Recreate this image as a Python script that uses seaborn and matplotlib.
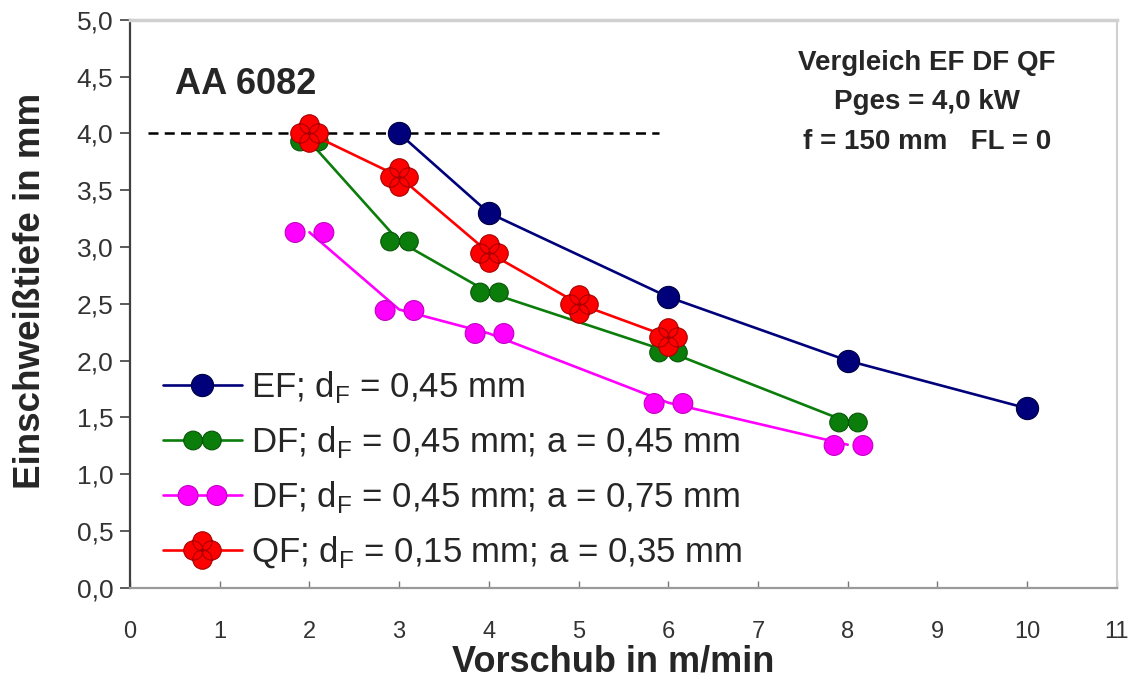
import matplotlib
matplotlib.use("Agg")
import matplotlib.pyplot as plt
from matplotlib.path import Path
from matplotlib.ticker import FuncFormatter
import pandas as pd
import seaborn as sns

# Data
x_ef = [3, 4, 6, 8, 10]
y_ef = [4.00, 3.30, 2.56, 2.00, 1.58]

x_df45 = [2, 3, 4, 6, 8]
y_df45 = [3.93, 3.05, 2.60, 2.08, 1.46]

x_df75 = [2, 3, 4, 6, 8]
y_df75 = [3.13, 2.45, 2.24, 1.63, 1.26]

x_qf = [2, 3, 4, 5, 6]
y_qf = [4.00, 3.62, 2.95, 2.50, 2.21]

labels = [
    r"EF; d$_\mathregular{F}$ = 0,45 mm",
    r"DF; d$_\mathregular{F}$ = 0,45 mm; a = 0,45 mm",
    r"DF; d$_\mathregular{F}$ = 0,45 mm; a = 0,75 mm",
    r"QF; d$_\mathregular{F}$ = 0,15 mm; a = 0,35 mm",
]

ref_depth = 4.0
ref_x_start, ref_x_end = 0.2, 5.9

x_ticks = list(range(0, 12))
y_ticks = [i * 0.5 for i in range(11)]


# marker shapes made of several small circles (double / quad fibre)
def circles(centers, r):
    return Path.make_compound_path(*[Path.circle(c, r) for c in centers])


double_tight = circles([(-9.5, 0), (9.5, 0)], 9.5)
double_wide = circles([(-14.5, 0), (14.5, 0)], 10)
quad = circles([(0, 8.5), (0, -8.5), (8.5, 0), (-8.5, 0)], 9)

sns.set_style("white")
plt.rcParams["font.family"] = ["Liberation Sans", "DejaVu Sans"]
plt.rcParams["mathtext.fontset"] = "custom"
plt.rcParams["mathtext.rm"] = "Liberation Sans"

fig = plt.figure(figsize=(11.35, 6.82), dpi=100)
ax = fig.add_axes([0.1145, 0.138, 0.8695, 0.833])

series = [
    (x_ef, y_ef, "#00007a", "#000040", "o", 16),
    (x_df45, y_df45, "#0b7d0b", "#075507", double_tight, 27),
    (x_df75, y_df75, "#ff00ff", "#c000c0", double_wide, 35),
    (x_qf, y_qf, "#ff0000", "#a80000", quad, 27),
]

for (xs, ys, col, edge, mk, ms), lab in zip(series, labels):
    df = pd.DataFrame({"x": xs, "y": ys})
    sns.lineplot(data=df, x="x", y="y", ax=ax, color=col, lw=1.9,
                 marker=mk, markersize=ms, markerfacecolor=col,
                 markeredgecolor=edge, markeredgewidth=0.8, label=lab,
                 zorder=3)

ax.hlines(ref_depth, ref_x_start, ref_x_end, colors="black",
          linestyles=(0, (4, 2.5)), lw=1.8, zorder=2)

ax.set_xlim(0, 11)
ax.set_ylim(0, 5)
ax.set_xticks(x_ticks)
ax.set_yticks(y_ticks)
ax.yaxis.set_major_formatter(FuncFormatter(lambda v, p: f"{v:.1f}".replace(".", ",")))
ax.tick_params(axis="y", direction="out", length=7, width=1.2, color="#404040",
               labelsize=19, labelcolor="#333333", pad=5, left=True)
ax.tick_params(axis="x", direction="in", length=5, width=1.0, color="#777777",
               labelsize=17, labelcolor="#333333", pad=24, bottom=True)

for side, c, w in [("left", "#404040", 1.6), ("bottom", "#9a9a9a", 1.6),
                   ("top", "#d0d0d0", 2.5), ("right", "#d0d0d0", 1.5)]:
    ax.spines[side].set_color(c)
    ax.spines[side].set_linewidth(w)

ax.set_xlabel("Vorschub in m/min", fontsize=26, fontweight="bold")
ax.set_ylabel("Einschweißtiefe in mm", fontsize=26.5, fontweight="bold")
ax.xaxis.set_label_coords(0.49, -0.1)
ax.yaxis.set_label_coords(-0.083, 0.522)

ax.text(0.0456, 0.886, "AA 6082", transform=ax.transAxes, fontsize=26,
        fontweight="bold", ha="left", va="center")
ax.text(0.8075, 0.855, "Vergleich EF DF QF\nPges = 4,0 kW\nf = 150 mm   FL = 0",
        transform=ax.transAxes, fontsize=20, fontweight="bold",
        ha="center", va="center", multialignment="center", linespacing=1.68)

ax.legend(loc="upper left", bbox_to_anchor=(0.033, 0.385), frameon=False,
          fontsize=25, handlelength=2.3, handletextpad=0.25, labelspacing=0.55,
          borderpad=0, borderaxespad=0)

fig.savefig("out.png", dpi=100)
